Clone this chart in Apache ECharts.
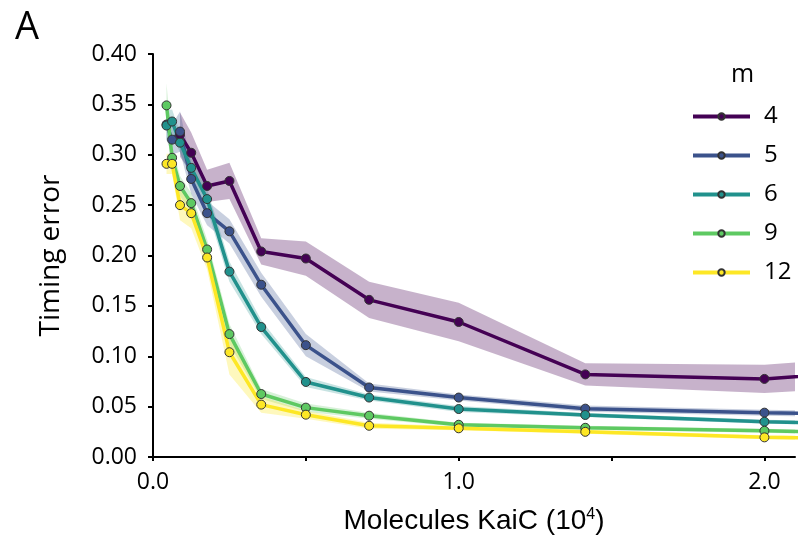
<!DOCTYPE html>
<html><head><meta charset="utf-8">
<script src="https://cdn.jsdelivr.net/npm/echarts@6/dist/echarts.min.js"></script>
<style>html,body{margin:0;padding:0;background:#fff}#c{width:798px;height:542px}</style>
</head><body><div id="c"></div>
<script>
// Molecules KaiC (10^4)
const molecules = [0.0442, 0.0625, 0.0884, 0.125, 0.177, 0.25, 0.354, 0.5, 0.707, 1.0, 1.414, 2.0, 2.83];
const mValues = ['4', '5', '6', '9', '12'];
const err_m4  = [null, null, 0.320, 0.302, 0.269, 0.274, 0.204, 0.197, 0.156, 0.134, 0.082, 0.0775, 0.095];
const err_m5  = [0.330, 0.315, 0.323, 0.276, 0.242, 0.224, 0.171, 0.111, 0.069, 0.059, 0.048, 0.044, 0.039];
const err_m6  = [0.329, 0.333, 0.312, 0.287, 0.256, 0.184, 0.129, 0.0745, 0.059, 0.0476, 0.0417, 0.035, 0.030];
const err_m9  = [0.349, 0.297, 0.269, 0.252, 0.206, 0.122, 0.0625, 0.049, 0.041, 0.032, 0.029, 0.026, 0.020];
const err_m12 = [0.291, 0.291, 0.250, 0.242, 0.198, 0.104, 0.052, 0.042, 0.031, 0.0285, 0.025, 0.0195, 0.017];
// half-width of shaded bands
const band_m4  = [null, null, 0.022, 0.020, 0.016, 0.018, 0.013, 0.017, 0.018, 0.019, 0.011, 0.014, 0.016];
const band_m5  = [0.015, 0.015, 0.020, 0.015, 0.012, 0.012, 0.012, 0.011, 0.004, 0.003, 0.003, 0.003, 0.003];
const band_m6  = [0.015, 0.012, 0.010, 0.010, 0.010, 0.010, 0.007, 0.005, 0.003, 0.003, 0.002, 0.002, 0.002];
const band_m9  = [0.022, 0.012, 0.010, 0.010, 0.010, 0.010, 0.005, 0.004, 0.003, 0.002, 0.002, 0.002, 0.002];
const band_m12 = [0.010, 0.010, 0.015, 0.015, 0.012, 0.022, 0.008, 0.004, 0.003, 0.002, 0.002, 0.002, 0.002];
const yTicks = [0, 0.05, 0.10, 0.15, 0.20, 0.25, 0.30, 0.35, 0.40];
const xTicks = [0, 0.5, 1.0, 1.5, 2.0];
const xLabels = [0, 1.0, 2.0];

const colors = ['#440154', '#3b528b', '#21918c', '#5ec962', '#fde725'];
const bandColors = ['rgba(68,1,84,0.30)', 'rgba(59,82,139,0.28)', 'rgba(33,145,140,0.25)', 'rgba(94,201,98,0.25)', 'rgba(253,231,37,0.30)'];
const allErr = [err_m4, err_m5, err_m6, err_m9, err_m12];
const allBand = [band_m4, band_m5, band_m6, band_m9, band_m12];

const series = [];
allErr.forEach((arr, i) => {
  const pts = [];
  arr.forEach((v, k) => {
    if (v == null) return;
    pts.push([molecules[k], v - allBand[i][k], v + allBand[i][k]]);
  });
  series.push({
    type: 'custom', name: 'band' + i, data: pts, clip: true, silent: true, z: 1,
    encode: {x: 0, y: [1, 2]},
    renderItem: (params, api) => {
      if (params.dataIndex !== 0) return null;
      const top = pts.map(p => api.coord([p[0], p[2]]));
      const bot = pts.map(p => api.coord([p[0], p[1]])).reverse();
      return {type: 'polygon', shape: {points: top.concat(bot)}, style: {fill: bandColors[i]}};
    }
  });
});
allErr.forEach((arr, i) => {
  const d = [];
  arr.forEach((v, k) => { if (v != null) d.push([molecules[k], v]); });
  series.push({
    type: 'line', name: mValues[i], data: d, symbol: 'circle', symbolSize: 9,
    color: colors[i],
    lineStyle: {color: colors[i], width: 3.5},
    itemStyle: {color: colors[i], borderColor: '#333', borderWidth: 1},
    z: 3
  });
});

const chart = echarts.init(document.getElementById('c'), null, {renderer: 'canvas'});
chart.setOption({
  backgroundColor: '#fff',
  animation: false,
  title: {text: 'A', left: 10, top: 4, textStyle: {fontFamily: 'Open Sans', fontSize: 38, fontWeight: 'normal', color: '#000'}},
  grid: {left: 153, right: 3, top: 54, bottom: 85, containLabel: false},
  xAxis: {
    type: 'value', min: 0, max: 2.1,
    name: '{a|Molecules KaiC (10}{s|4}{a|)}', nameLocation: 'middle', nameGap: 50,
    nameTextStyle: {rich: {a: {fontFamily: 'Liberation Sans', fontSize: 28, color: '#000'},
                            s: {fontFamily: 'Liberation Sans', fontSize: 16, color: '#000', verticalAlign: 'top', padding: [0, 0, 12, 0]}}},
    axisLine: {show: true, lineStyle: {color: '#000', width: 2}},
    axisTick: {show: true, length: 4, customValues: xTicks, lineStyle: {color: '#000', width: 2}},
    axisLabel: {customValues: xLabels, margin: 14, fontFamily: 'Open Sans', fontSize: 23, color: '#000',
                formatter: v => v.toFixed(1)},
    splitLine: {show: false}
  },
  yAxis: {
    type: 'value', min: 0, max: 0.4, interval: 0.05,
    name: 'Timing error', nameLocation: 'middle', nameGap: 88,
    nameTextStyle: {fontFamily: 'Open Sans', fontSize: 28, color: '#000'},
    axisLine: {show: true, lineStyle: {color: '#000', width: 2}},
    axisTick: {show: true, length: 5, customValues: yTicks, lineStyle: {color: '#000', width: 2}},
    axisLabel: {customValues: yTicks, margin: 16, fontFamily: 'Open Sans', fontSize: 23, color: '#000',
                formatter: v => v.toFixed(2)},
    splitLine: {show: false}
  },
  legend: {
    data: mValues, orient: 'vertical', left: 686, top: 98,
    itemWidth: 57, itemHeight: 8, itemGap: 12,
    lineStyle: {width: 4},
    textStyle: {fontFamily: 'Open Sans', fontSize: 24, lineHeight: 27, color: '#000', padding: [0, 0, 0, 9]}
  },
  graphic: [{type: 'text', left: 731, top: 62, style: {text: 'm', font: '25px "Open Sans"', fill: '#000'}}],
  series: series
});
</script></body></html>
